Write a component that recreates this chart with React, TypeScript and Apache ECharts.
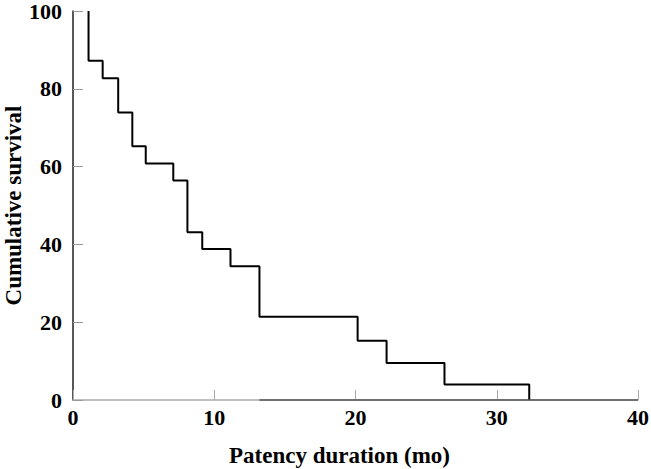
import React, { useEffect, useRef } from "react";
import * as echarts from "echarts";

// Kaplan-Meier style step curve (event time in months, survival % after the step)
const startTime = 1.1;
const startSurvival = 100;
const eventTimes = [1.1, 2.1, 3.2, 4.2, 5.15, 7.1, 8.1, 9.15, 11.15, 13.2, 20.15, 22.2, 26.3, 32.3];
const survivalAfter = [87.2, 82.7, 73.9, 65.2, 60.8, 56.4, 43.1, 38.8, 34.4, 21.4, 15.2, 9.5, 4.0, 0];
const xTicks = [0, 10, 20, 30, 40];
const yTicks = [0, 20, 40, 60, 80, 100];
const baselineSegment = [13.2, 40];

const FONT = "'Liberation Serif', 'Times New Roman', serif";

export default function App() {
  const ref = useRef<HTMLDivElement>(null);
  useEffect(() => {
    if (!ref.current) return;
    const chart = echarts.init(ref.current, undefined, { renderer: "svg" });
    const data: number[][] = [[startTime, startSurvival]];
    eventTimes.forEach((t, i) => data.push([t, survivalAfter[i]]));
    chart.setOption({
      animation: false,
      backgroundColor: "#fff",
      grid: { left: 73, right: 13, top: 11, bottom: 69, containLabel: false, outerBoundsMode: "none" },
      xAxis: {
        type: "value",
        min: xTicks[0],
        max: xTicks[xTicks.length - 1],
        interval: 10,
        name: "Patency duration (mo)",
        nameLocation: "middle",
        nameGap: 44,
        nameMoveOverlap: false,
        nameTextStyle: { fontFamily: FONT, fontWeight: "bold", fontSize: 23, color: "#000", padding: [0, 32, 0, 0] },
        axisLine: { lineStyle: { color: "#aaa", width: 1.5 } },
        axisTick: { inside: true, length: 10, lineStyle: { color: "#aaa", width: 1 } },
        axisLabel: { fontFamily: FONT, fontWeight: "bold", fontSize: 22, color: "#000", margin: 6 },
        splitLine: { show: false },
      },
      yAxis: {
        type: "value",
        min: yTicks[0],
        max: yTicks[yTicks.length - 1],
        interval: 20,
        name: "Cumulative survival",
        nameLocation: "middle",
        nameGap: 48,
        nameMoveOverlap: false,
        nameTextStyle: { fontFamily: FONT, fontWeight: "bold", fontSize: 23, color: "#000" },
        axisLine: { show: true, lineStyle: { color: "#222", width: 1.5 } },
        axisTick: { show: true, inside: true, length: 10, lineStyle: { color: "#999", width: 1 } },
        axisLabel: { fontFamily: FONT, fontWeight: "bold", fontSize: 22, color: "#000", margin: 11 },
        splitLine: { show: false },
      },
      series: [
        {
          type: "line",
          step: "end",
          data,
          symbol: "none",
          lineStyle: { color: "#000", width: 2 },
          markLine: {
            silent: true,
            symbol: "none",
            label: { show: false },
            lineStyle: { color: "#555", width: 1.5, type: "solid" },
            data: [[{ coord: [baselineSegment[0], 0] }, { coord: [baselineSegment[1], 0] }]],
          },
        },
      ],
    });
    return () => chart.dispose();
  }, []);
  return (
    <div
      ref={ref}
      style={{ position: "fixed", left: 0, top: 0, width: 651, height: 469 }}
    />
  );
}
